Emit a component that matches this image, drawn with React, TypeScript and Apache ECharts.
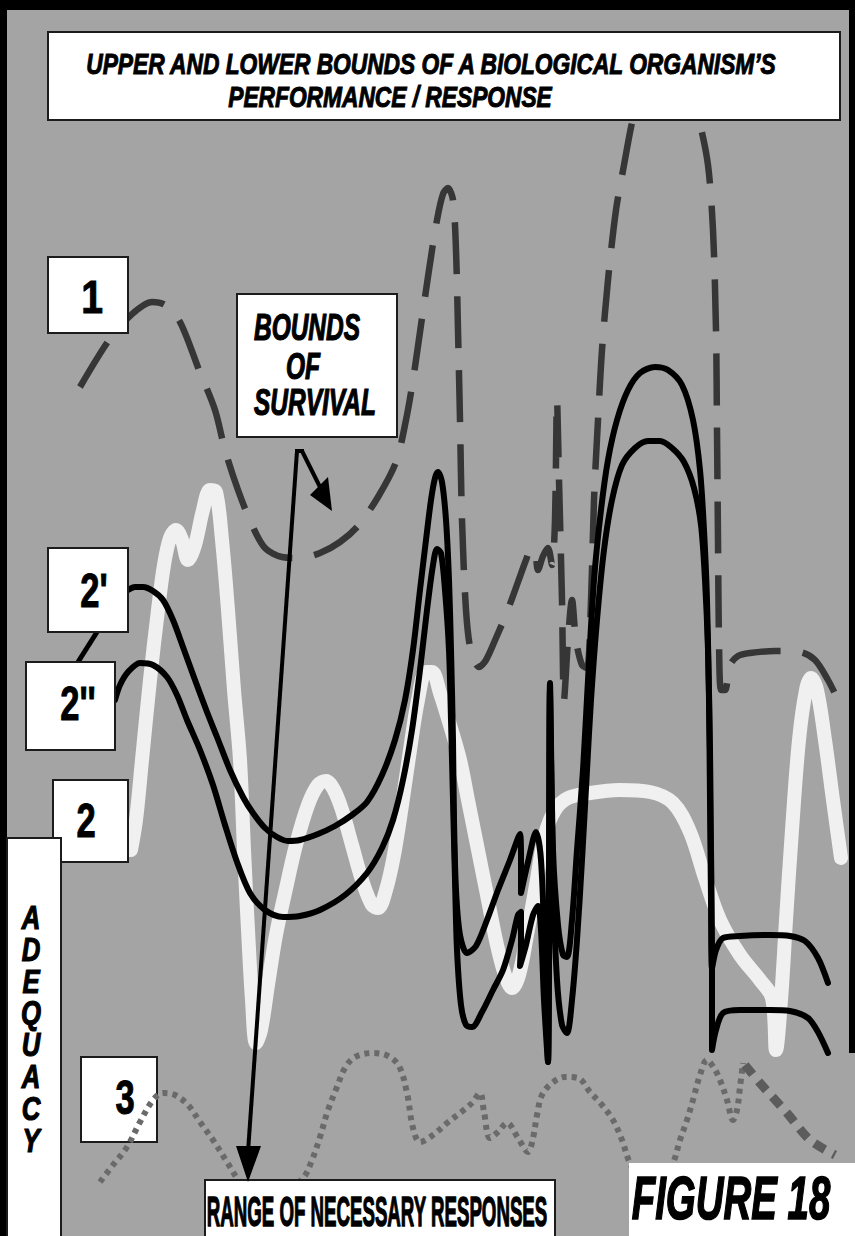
import React, { useEffect, useRef } from "react";
import * as echarts from "echarts";

// Horizontal axis: range of responses (0..855), vertical axis: adequacy level (0 top .. 1236 bottom)
const boundsOfSurvival: number[][] = [
  [80, 387], [109, 340], [131, 315], [152, 302], [165, 305], [180, 322], [199, 370], [215, 410],
  [225, 450], [238, 490], [252, 525], [265, 548], [282, 557], [300, 558], [320, 553], [340, 542],
  [358, 526], [378, 497], [396, 462], [406, 420], [413, 380], [421, 325], [429, 270], [437, 220],
  [443, 194], [448, 188], [453, 200], [456, 250], [458, 330], [460, 420], [462, 520], [466, 610],
  [471, 652], [479, 667], [486, 660], [496, 638], [507, 612], [518, 582], [526, 560], [531, 549],
  [535, 552], [538, 570], [543, 556], [548, 548], [552, 565], [555, 520], [557, 400], [559, 480],
  [562, 600], [564, 700], [568, 640], [572, 600], [576, 640], [582, 665], [587, 668], [591, 600],
  [594, 500], [598, 420], [602, 350], [608, 280], [616, 210], [624, 165], [633, 118], [645, 75],
  [660, 55], [675, 60], [688, 85], [699, 120], [708, 165], [713, 230], [716, 330], [717, 430],
  [718, 540], [719, 640], [721, 690], [725, 690], [730, 665], [738, 656], [750, 653], [775, 651],
  [800, 652], [815, 660], [828, 680], [838, 700],
];

const response2: number[][] = [
  [131, 850], [136, 820], [142, 760], [150, 680], [158, 610], [164, 565], [170, 538], [176, 530],
  [182, 540], [188, 560], [195, 545], [203, 510], [210, 490], [216, 492], [222, 540], [228, 610],
  [234, 690], [240, 760], [244, 850], [248, 930], [252, 1000], [256, 1043], [261, 1030], [268, 985],
  [276, 935], [285, 893], [296, 845], [308, 805], [318, 785], [326, 781], [334, 790], [342, 810],
  [352, 845], [362, 880], [372, 905], [378, 908], [386, 890], [394, 855], [402, 805], [410, 750],
  [418, 700], [426, 672], [432, 672], [440, 693], [450, 725], [460, 760], [468, 800], [477, 845],
  [487, 895], [497, 945], [505, 975], [512, 988], [519, 975], [527, 935], [536, 885], [545, 835],
  [555, 810], [568, 798], [590, 793], [620, 790], [650, 792], [673, 803], [690, 832], [705, 878],
  [720, 920], [740, 955], [760, 980], [772, 998], [776, 1050], [781, 1000], [786, 920], [792, 830],
  [799, 740], [806, 690], [811, 678], [817, 690], [825, 740], [833, 800], [841, 858],
];

const response2Prime: number[][] = [
  [128, 590], [135, 587], [143, 587], [153, 591], [163, 600], [173, 620], [183, 647], [195, 680],
  [207, 712], [217, 737], [230, 770], [243, 797], [253, 813], [265, 828], [277, 837], [288, 841],
  [300, 840], [318, 834], [335, 826], [352, 815], [367, 802], [382, 775], [395, 740], [405, 700],
  [413, 650], [420, 590], [426, 540], [431, 500], [435, 478], [438, 472], [442, 482], [446, 520],
  [449, 580], [451, 650], [453, 740], [454, 820], [456, 890], [460, 935], [467, 953], [476, 946],
  [487, 920], [498, 890], [510, 860], [520, 834], [521, 860], [521, 893], [528, 862], [536, 832],
  [541, 860], [545, 960], [548, 1062], [550, 683], [553, 850], [558, 925], [563, 955], [567, 957],
  [572, 920], [577, 850], [583, 770], [588, 680], [594, 580], [601, 510], [608, 460], [617, 420],
  [628, 390], [640, 373], [655, 367], [668, 370], [682, 385], [693, 420], [700, 470], [704, 530],
  [707, 600], [709, 700], [710, 800], [711, 900], [712, 968], [716, 950], [723, 938], [740, 936],
  [770, 935], [790, 936], [805, 941], [818, 958], [828, 983],
];

const response2DoublePrime: number[][] = [
  [115, 700], [120, 685], [128, 672], [140, 663], [153, 665], [167, 677], [177, 695], [187, 720],
  [200, 750], [213, 785], [225, 825], [237, 862], [250, 893], [265, 910], [283, 917], [300, 916],
  [320, 910], [345, 895], [367, 873], [382, 848], [393, 820], [403, 780], [412, 730], [420, 670],
  [427, 610], [433, 565], [437, 549], [441, 553], [445, 590], [449, 650], [451, 720], [453, 800],
  [455, 880], [457, 950], [461, 1005], [466, 1025], [472, 1027], [482, 1012], [493, 990], [503, 970],
  [512, 940], [518, 915], [521, 912], [521, 940], [520, 966], [526, 945], [533, 915], [538, 906],
  [541, 930], [544, 1000], [548, 1062], [550, 690], [553, 880], [557, 980], [562, 1025], [567, 1033],
  [572, 1000], [577, 940], [582, 860], [587, 770], [591, 700], [597, 620], [604, 550], [612, 500],
  [622, 465], [635, 448], [648, 441], [660, 441], [672, 448], [684, 462], [694, 488], [701, 525],
  [705, 580], [708, 650], [710, 750], [711, 850], [712, 950], [712, 1050], [716, 1030], [723, 1013],
  [740, 1010], [770, 1010], [790, 1011], [808, 1018], [818, 1032], [828, 1053],
];

const necessaryResponses3: number[][] = [
  [100, 1182], [113, 1165], [127, 1147], [140, 1122], [153, 1100], [163, 1093], [175, 1095],
  [188, 1105], [200, 1122], [213, 1140], [227, 1162], [240, 1182], [255, 1195], [280, 1195],
  [303, 1178], [312, 1160], [320, 1137], [328, 1110], [337, 1087], [345, 1068], [355, 1057],
  [373, 1053], [388, 1056], [399, 1066], [407, 1093], [413, 1128], [420, 1142], [433, 1135],
  [447, 1123], [460, 1113], [472, 1103], [480, 1093], [484, 1112], [490, 1138], [498, 1132],
  [507, 1123], [518, 1138], [528, 1152], [533, 1138], [537, 1115], [542, 1095], [552, 1083],
  [565, 1077], [578, 1078], [590, 1092], [602, 1105], [613, 1120], [622, 1140], [630, 1163],
  [645, 1185], [660, 1185], [673, 1163], [680, 1140], [687, 1120], [693, 1100], [700, 1075],
  [707, 1060], [714, 1068], [720, 1080], [727, 1100], [733, 1120], [737, 1110], [740, 1087],
  [743, 1063],
];

const necessaryTail3: number[][] = [
  [745, 1065], [760, 1083], [787, 1113], [810, 1140], [835, 1155],
];

const titleLines = ["UPPER AND LOWER BOUNDS OF A BIOLOGICAL ORGANISM’S", "PERFORMANCE / RESPONSE"];
const survivalLines = ["BOUNDS", "OF", "SURVIVAL"];
const adequacyLetters = ["A", "D", "E", "Q", "U", "A", "C", "Y"];
const curveLabels = ["1", "2'", "2''", "2", "3"];
const axisTitle = "RANGE OF NECESSARY RESPONSES";
const figureTitle = "FIGURE 18";

const FONT = "'Liberation Sans', Arial, 'DejaVu Sans', sans-serif";

function box(x: number, y: number, w: number, h: number, z = 50) {
  return {
    type: "rect",
    z,
    shape: { x, y, width: w, height: h },
    style: { fill: "#ffffff", stroke: "#1c1c1c", lineWidth: 2 },
  };
}

function label(
  text: string,
  x: number,
  y: number,
  size: number,
  scaleX: number,
  italic: boolean,
  align = "center",
  z = 51,
  heavy = 1
) {
  return {
    type: "text",
    z,
    x,
    y,
    scaleX,
    style: {
      text,
      fill: "#000",
      stroke: "#000",
      lineWidth: heavy,
      font: `${italic ? "italic " : ""}bold ${size}px ${FONT}`,
      align,
      verticalAlign: "middle",
      textAlign: align,
      textVerticalAlign: "middle",
    },
  };
}

export default function App() {
  const ref = useRef<HTMLDivElement>(null);

  useEffect(() => {
    if (!ref.current) return;
    const chart = echarts.init(ref.current, undefined, { renderer: "svg" });

    const graphics: any[] = [
      // frame
      { type: "rect", z: 40, shape: { x: 0, y: 0, width: 855, height: 10 }, style: { fill: "#000" } },
      { type: "rect", z: 40, shape: { x: 0, y: 0, width: 7, height: 1236 }, style: { fill: "#000" } },
      { type: "rect", z: 40, shape: { x: 849, y: 0, width: 6, height: 1053 }, style: { fill: "#000" } },
      // title
      box(48, 32, 792, 88),
      label(titleLines[0], 431, 64, 29, 0.785, true, "center", 51, 1),
      label(titleLines[1], 390, 97, 29, 0.785, true, "center", 51, 1),
      // bounds of survival
      box(237, 294, 160, 143),
      label(survivalLines[0], 254, 328, 36, 0.68, true, "left", 51, 1.2),
      label(survivalLines[1], 286, 367, 36, 0.68, true, "left", 51, 1.2),
      label(survivalLines[2], 254, 403, 36, 0.68, true, "left", 51, 1.2),
      // curve labels
      box(48, 257, 80, 76),
      label(curveLabels[0], 92, 297, 46, 0.85, false, "center", 51, 1),
      box(48, 548, 80, 84),
      label(curveLabels[1], 94, 590, 48, 0.72, false, "center", 51, 1),
      { type: "line", z: 49, shape: { x1: 97, y1: 632, x2: 78, y2: 662 }, style: { stroke: "#000", lineWidth: 5 } },
      box(26, 662, 89, 88),
      label(curveLabels[2], 78, 703, 48, 0.72, false, "center", 51, 1),
      box(53, 780, 75, 82),
      label(curveLabels[3], 86, 820, 48, 0.72, false, "center", 51, 1),
      box(81, 1057, 76, 85, 1),
      label(curveLabels[4], 125, 1097, 48, 0.72, false, "center", 1, 1),
      // adequacy
      box(7, 838, 54, 410),
      ...adequacyLetters.map((ch, i) => label(ch, 31, 917 + i * 31.9, 33, 0.78, true, "center", 51, 1.2)),
      // range box
      box(205, 1180, 350, 70),
      label(axisTitle, 377, 1212, 42, 0.445, false, "center", 51, 1.4),
      // figure box
      { type: "rect", z: 50, shape: { x: 629, y: 1163, width: 230, height: 80 }, style: { fill: "#fff" } },
      label(figureTitle, 731, 1197, 62, 0.62, true, "center", 51, 1.6),
      // arrows
      { type: "line", z: 60, shape: { x1: 295, y1: 451, x2: 304, y2: 451 }, style: { stroke: "#000", lineWidth: 4 } },
      { type: "line", z: 60, shape: { x1: 297, y1: 451, x2: 248, y2: 1152 }, style: { stroke: "#000", lineWidth: 4 } },
      { type: "polygon", z: 60, shape: { points: [[248, 1182], [236, 1146], [261, 1146]] }, style: { fill: "#000" } },
      { type: "line", z: 60, shape: { x1: 302, y1: 451, x2: 321, y2: 489 }, style: { stroke: "#000", lineWidth: 4 } },
      { type: "polygon", z: 60, shape: { points: [[310, 495], [328, 477], [332, 511]] }, style: { fill: "#000" } },
    ];

    chart.setOption({
      animation: false,
      backgroundColor: "#a4a4a4",
      grid: { left: 0, right: 0, top: 0, bottom: 0, containLabel: false },
      xAxis: { type: "value", min: 0, max: 855, show: false },
      yAxis: { type: "value", min: 0, max: 1236, inverse: true, show: false },
      series: [
        {
          name: "2",
          type: "line",
          data: response2,
          smooth: 0.35,
          symbol: "none",
          z: 2,
          lineStyle: { color: "#f0f0f0", width: 14, cap: "round", join: "round" },
        },
        {
          name: "1",
          type: "line",
          data: boundsOfSurvival,
          smooth: 0.3,
          symbol: "none",
          z: 3,
          lineStyle: { color: "#363636", width: 6.5, type: [52, 22], cap: "butt", join: "round" },
        },
        {
          name: "3",
          type: "line",
          data: necessaryResponses3,
          smooth: 0.35,
          symbol: "none",
          z: 3,
          lineStyle: { color: "#6a6a6a", width: 6, type: [5, 5], cap: "butt" },
        },
        {
          name: "3 tail",
          type: "line",
          data: necessaryTail3,
          smooth: 0.3,
          symbol: "none",
          z: 3,
          lineStyle: { color: "#5c5c5c", width: 9, type: [12, 9], cap: "butt" },
        },
        {
          name: "2'",
          type: "line",
          data: response2Prime,
          smooth: 0.3,
          symbol: "none",
          z: 4,
          lineStyle: { color: "#000", width: 6, join: "round", cap: "round" },
        },
        {
          name: "2''",
          type: "line",
          data: response2DoublePrime,
          smooth: 0.3,
          symbol: "none",
          z: 4,
          lineStyle: { color: "#000", width: 6, join: "round", cap: "round" },
        },
      ],
      graphic: graphics,
    });

    return () => chart.dispose();
  }, []);

  return (
    <div
      ref={ref}
      style={{ position: "fixed", left: 0, top: 0, width: 855, height: 1236 }}
    />
  );
}
